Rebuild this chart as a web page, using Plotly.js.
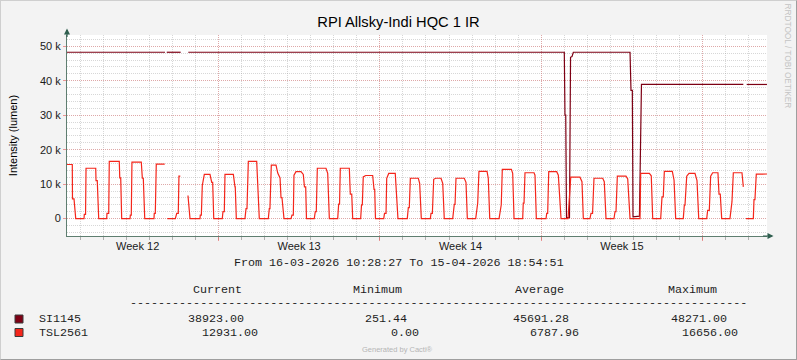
<!DOCTYPE html>
<html><head><meta charset="utf-8">
<script src="https://cdn.plot.ly/plotly-3.0.1.min.js"></script>
<style>
html,body{margin:0;padding:0;background:#F3F3F3}
#wrap{position:relative;width:797px;height:360px}
#chart{width:797px;height:360px}
#frame{position:absolute;left:0;top:0;width:797px;height:360px;box-sizing:border-box;border-top:1px solid #CFCFCF;border-left:1px solid #CFCFCF;border-right:1px solid #9E9E9E;border-bottom:1px solid #9E9E9E;pointer-events:none}
</style>
</head><body><div id="wrap"><div id="chart"></div><div id="frame"></div></div>
<script>
// ---------- data ----------
const chartTitle = 'RPI Allsky-Indi HQC 1 IR';
const yTitle = 'Intensity (lumen)';
const startTime = '2026-03-16 10:28:27';
const endTime = '2026-04-15 18:54:51';
const weekLabels = ['Week 12', 'Week 13', 'Week 14', 'Week 15'];
const weekMidpoints = ['2026-03-19 12:00', '2026-03-26 12:00', '2026-04-02 12:00', '2026-04-09 12:00'];
const yTickValues = [0, 10000, 20000, 30000, 40000, 50000];
const yTickLabels = ['0', '10 k', '20 k', '30 k', '40 k', '50 k'];
const seriesNames = ['SI1145', 'TSL2561'];

// hours since start time
const siHours = [0, 102.0, 102.9, 103.8, 118.3, 121.0, 126.2, 517.5, 518.2, 519.0, 519.8, 522.9, 524.0, 525.5, 526.9,
  585.9, 586.9, 588.3, 589.0, 594.5, 595.7, 597.8, 703.8, 705.0, 707.3, 728.4];
const siValues = [48271, 48271, null, 48271, 48271, null, 48271, 48271, 30000, 30000, 300, 300, 46800, 47000, 48271,
  48271, 37200, 37200, 500, 500, 700, 38923, 38923, null, 38923, 38923];

const tslHours = [
  0, 5.5, 5.7, 7.3, 9.1, 17.7, 18.0, 19.3, 19.8, 29.9, 30.2, 31.5, 33.0,
  41.3, 41.6, 43.4, 44.0, 54.4, 54.9, 55.9, 56.9,
  65.6, 65.9, 66.9, 67.6, 77.3, 78.4, 79.4, 80.9,
  90.5, 90.8, 91.9, 92.9, 101.7, 102.9,
  104.4, 112.7, 114.2, 115.8, 116.5, 117.9, 121.0,
  125.9, 128.0, 138.4, 138.7, 139.8, 140.8, 142.9, 148.8, 150.6, 151.6, 152.7,
  161.6, 162.3, 163.7, 164.4, 173.1, 174.8, 175.1, 176.2,
  185.2, 186.3, 187.3, 188.7, 197.4, 200.1,
  209.5, 210.5, 211.2, 212.6, 217.5, 219.3, 221.7, 222.7, 223.7, 225.8,
  233.1, 234.1, 235.5, 236.2, 238.3, 243.5, 245.9, 247.1, 248.4, 249.2,
  257.3, 258.4, 259.4, 260.5, 269.5, 271.3, 273.0,
  281.7, 282.7, 283.6, 284.4, 293.8, 294.8, 296.3, 297.3,
  305.6, 306.5, 307.3, 308.3, 310.8, 318.1, 319.5, 320.2, 321.0,
  329.6, 330.4, 332.0, 332.7, 334.8, 341.6, 343.1, 343.7, 344.4,
  354.1, 355.2, 356.2, 357.3, 365.6, 367.0, 368.7,
  378.1, 378.8, 380.2, 381.6, 383.7, 389.2, 391.0, 392.6,
  401.4, 403.0, 403.8, 404.8, 413.4, 415.2, 416.6,
  425.3, 426.7, 427.4, 428.7, 437.1, 438.4, 439.9,
  449.6, 451.3, 451.9, 453.0, 462.4, 463.8, 465.2,
  474.2, 474.8, 475.6, 476.6, 486.0, 487.0, 488.4,
  498.5, 499.2, 500.2, 501.3, 509.6, 511.3, 513.3, 514.1,
  521.4, 522.4, 523.1, 524.2, 533.8, 535.9, 537.3,
  544.2, 545.3, 546.9, 548.4, 557.5, 559.1, 560.9,
  569.2, 570.3, 571.3, 572.7, 581.7, 583.5, 585.9,
  596.3, 597.0, 606.0, 608.0, 609.5,
  617.8, 619.2, 620.5, 621.6, 629.9, 631.7, 633.4,
  641.3, 642.4, 643.1, 644.9, 647.3, 653.5, 655.6, 657.4,
  665.7, 666.7, 668.4, 669.8, 671.9, 677.4, 678.5, 679.8, 681.3,
  689.9, 691.3, 692.0, 693.4, 702.4, 703.8, 705.0,
  706.6, 714.2, 714.9, 715.9, 717.3, 728.44];
const tslValues = [
  15700, 15700, 5700, 5700, 0, 0, 1200, 1200, 14600, 14600, 11000, 11000, 0,
  0, 1500, 1500, 16600, 16600, 11800, 11800, 0,
  0, 1000, 1000, 16400, 16400, 11700, 11700, 0,
  0, 1500, 1500, 15800, 15800, null,
  0, 0, 1500, 1500, 12300, 12300, null,
  6700, 0, 0, 1000, 1000, 9600, 12800, 12800, 10500, 10500, 0,
  0, 2000, 2000, 12800, 12800, 9200, 9200, 0,
  0, 2900, 2900, 16600, 16600, 0,
  0, 2900, 2900, 15500, 15500, 13200, 11800, 6100, 6100, 0,
  0, 1000, 1000, 12600, 13600, 13600, 12800, 9200, 9200, 0,
  0, 2000, 2000, 14600, 14600, 13100, 0,
  0, 4200, 4200, 14600, 14600, 7100, 7100, 0,
  0, 4000, 4000, 12100, 12500, 12500, 8500, 8500, 0,
  0, 1500, 1500, 11700, 13100, 13100, 4900, 4900, 0,
  0, 3200, 3200, 11700, 11700, 10200, 0,
  0, 1500, 1500, 11400, 11700, 11700, 10200, 0,
  0, 4100, 4100, 11700, 11700, 10500, 0,
  0, 4500, 4500, 13700, 13700, 11700, 0,
  0, 4000, 4000, 14300, 14300, 13100, 0,
  0, 4500, 4500, 13300, 13300, 12600, 0,
  0, 1500, 1500, 13600, 13600, 12600, 1000, 0,
  0, 5000, 5000, 12000, 12000, 10700, 0,
  0, 1500, 1500, 11700, 11700, 10700, 0,
  0, 2000, 2000, 12300, 12300, 11500, 0,
  0, 13100, 13100, 12400, 0,
  0, 6300, 6300, 13700, 13700, 11200, 0,
  0, 3900, 3900, 12300, 13100, 13100, 11000, 0,
  0, 2400, 2400, 12300, 13300, 13300, 7100, 7100, 0,
  0, 4900, 4900, 13300, 13300, 9200, null,
  0, 0, 5500, 5500, 12900, 12931];

const statHeaders = ['Current', 'Minimum', 'Average', 'Maximum'];
const siStats = ['38923.00', '251.44', '45691.28', '48271.00'];
const tslStats = ['12931.00', '0.00', '6787.96', '16656.00'];
const periodText = 'From 16-03-2026 10:28:27 To 15-04-2026 18:54:51';

// ---------- styling ----------
const colSI = '#7E0014', colTSL = '#F4261B';
const t0ms = Date.UTC(2026, 2, 16, 10, 28, 27);
function toDate(h) { return new Date(t0ms + h * 3600000).toISOString().slice(0, 19).replace('T', ' '); }
const PL = 67, PT = 35, PW = 700, PH = 201;
const px = x => (x - PL) / PW;
const py = y => (PT + PH - y) / PH;
const mono = {family: 'Liberation Mono, monospace', size: 11.7, color: '#1E1E1E'};

const traces = [
  {x: siHours.map(toDate), y: siValues, name: seriesNames[0], type: 'scatter', mode: 'lines',
   line: {color: colSI, width: 1.2}, connectgaps: false, xaxis: 'x', yaxis: 'y', hoverinfo: 'skip'},
  {x: tslHours.map(toDate), y: tslValues, name: seriesNames[1], type: 'scatter', mode: 'lines',
   line: {color: colTSL, width: 1.2}, connectgaps: false, xaxis: 'x2', yaxis: 'y', hoverinfo: 'skip'}
];

const ann = [];
function txt(text, x, y, anchor, font, extra) {
  ann.push(Object.assign({text: text, xref: 'paper', yref: 'paper', x: px(x), y: py(y), xanchor: anchor, yanchor: 'middle',
    showarrow: false, font: font || mono}, extra || {}));
}
txt(periodText, 398.5, 263, 'center');
const headerX = [191, 351.7, 513.3, 666.7];
statHeaders.forEach((h, i) => txt(h, headerX[i] - 0.5, 290.3, 'left'));
txt('-'.repeat(88), 128, 303, 'left', mono, {height: 8, valign: 'middle'});
txt(seriesNames[0], 36.8, 319, 'left');
txt(seriesNames[1], 36.8, 332.5, 'left');
const siX = [186.2, 362.8, 511.2, 668.8];
const tslX = [199.5, 389, 527.8, 679.5];
siStats.forEach((s, i) => txt(s, siX[i], 319, 'left'));
tslStats.forEach((s, i) => txt(s, tslX[i], 332.5, 'left'));
txt('Generated by Cacti®', 397.5, 349.5, 'center', {family: 'Liberation Sans, Arial', size: 7.5, color: '#B5B5B5'});
ann.push({text: 'RRDTOOL / TOBI OETIKER', xref: 'paper', yref: 'paper', x: px(787.5), y: py(56), textangle: 90,
  xanchor: 'center', yanchor: 'middle', showarrow: false,
  font: {family: 'Liberation Sans, Arial', size: 8.3, color: '#C4C4C4'}});
// axis arrows
ann.push({text: '', xref: 'paper', yref: 'paper', x: 0, y: py(28.5), ax: 0, ay: 10, showarrow: true,
  arrowhead: 2, arrowsize: 1, arrowwidth: 1.2, arrowcolor: '#2F5F4F', standoff: 0});
ann.push({text: '', xref: 'paper', yref: 'paper', x: px(773.5), y: 0, ax: -12, ay: 0, showarrow: true,
  arrowhead: 2, arrowsize: 1, arrowwidth: 1.2, arrowcolor: '#2F5F4F', standoff: 0});

const shapes = [
  {type: 'rect', xref: 'paper', yref: 'paper', x0: px(15), x1: px(23), y0: py(315), y1: py(323),
   fillcolor: colSI, line: {color: '#3A3A3A', width: 1}},
  {type: 'rect', xref: 'paper', yref: 'paper', x0: px(15), x1: px(23), y0: py(328.5), y1: py(336.5),
   fillcolor: colTSL, line: {color: '#3A3A3A', width: 1}}
];

const minorGrid = 'rgba(150,150,150,0.38)';
const majorGrid = 'rgba(230,110,110,0.45)';
const axisCol = '#5E7E70';
const layout = {
  width: 797, height: 360,
  margin: {l: PL, r: 797 - PL - PW, t: PT, b: 360 - PT - PH, pad: 0},
  paper_bgcolor: '#F3F3F3', plot_bgcolor: '#FFFFFF',
  showlegend: false,
  font: {family: 'Liberation Sans, Arial, sans-serif', size: 11, color: '#1A1A1A'},
  title: {text: chartTitle, xref: 'container', yref: 'container', x: 0.5, y: 1 - 22 / 360,
    xanchor: 'center', yanchor: 'middle', font: {family: 'Liberation Sans, Arial', size: 14.7, color: '#000'}},
  xaxis: {type: 'date', range: [startTime, endTime], tickmode: 'array', tickvals: weekMidpoints, ticktext: weekLabels,
    ticks: '', showgrid: false, zeroline: false, showline: true, linecolor: axisCol, linewidth: 1,
    tickfont: {size: 11, color: '#1A1A1A'}, fixedrange: true,
    minor: {tickmode: 'linear', tick0: '2026-03-17', dtick: 86400000, showgrid: true, gridcolor: minorGrid,
      griddash: '1px,1px', gridwidth: 1, ticks: 'outside', ticklen: 3, tickcolor: '#AFAFAF'}},
  xaxis2: {type: 'date', range: [startTime, endTime], overlaying: 'x', anchor: 'y', side: 'bottom',
    tickmode: 'linear', tick0: '2026-03-23', dtick: 7 * 86400000, showticklabels: false,
    showgrid: true, gridcolor: majorGrid, griddash: '1px,1px', gridwidth: 1, ticks: 'outside', ticklen: 4,
    tickcolor: 'rgba(230,110,110,0.7)', zeroline: false, showline: false, fixedrange: true},
  yaxis: {range: [-5060, 53280], tickmode: 'array', tickvals: yTickValues, ticktext: yTickLabels,
    showgrid: true, gridcolor: majorGrid, griddash: '1px,1px', gridwidth: 1, zeroline: false,
    showline: true, linecolor: axisCol, linewidth: 1, ticks: 'outside', ticklen: 3, tickcolor: 'rgba(230,110,110,0.7)',
    tickfont: {size: 11, color: '#1A1A1A'}, fixedrange: true,
    title: {text: yTitle, standoff: 20, font: {size: 11, color: '#000'}},
    minor: {tickmode: 'linear', tick0: 0, dtick: 2000, showgrid: true, gridcolor: minorGrid, griddash: '1px,1px', gridwidth: 1}},
  annotations: ann, shapes: shapes
};
Plotly.newPlot('chart', traces, layout, {staticPlot: true, displayModeBar: false});
</script>
</body></html>
